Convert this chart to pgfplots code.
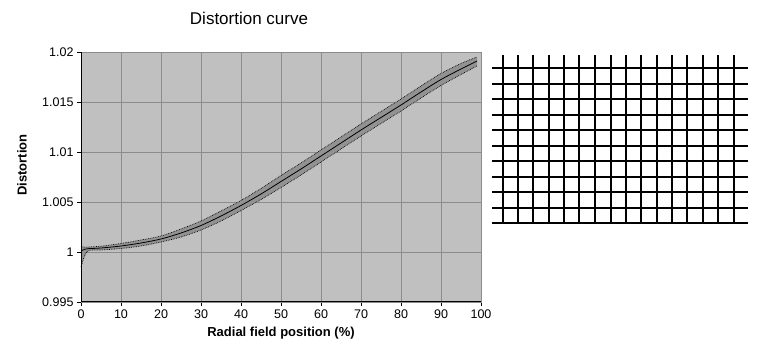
\documentclass[border=0pt]{standalone}
\usepackage{fontspec}
\setmainfont{Liberation Sans}
\usepackage{pgfplots}
\usepgfplotslibrary{fillbetween}
\pgfplotsset{compat=1.18}
\usepackage{pgfplotstable}
\pgfplotstableread{
x c lo hi
0 1.00010 0.99850 1.00055
1 1.00028 0.99970 1.00048
2 1.00034 1.00016 1.00050
5 1.00040 1.00020 1.00058
10 1.00060 1.00035 1.00085
15 1.00090 1.00060 1.00120
20 1.00130 1.00100 1.00160
25 1.00190 1.00150 1.00230
30 1.00265 1.00220 1.00310
35 1.00360 1.00310 1.00410
40 1.00465 1.00415 1.00515
45 1.00580 1.00525 1.00635
50 1.00705 1.00645 1.00765
55 1.00830 1.00770 1.00890
60 1.00960 1.00900 1.01020
65 1.01090 1.01030 1.01150
70 1.01220 1.01160 1.01280
75 1.01345 1.01285 1.01405
80 1.01470 1.01410 1.01530
85 1.01600 1.01540 1.01660
90 1.01725 1.01665 1.01785
95 1.01830 1.01775 1.01885
99 1.01910 1.01860 1.01950
}\curvedata
\definecolor{plotbg}{HTML}{C0C0C0}
\definecolor{gridc}{HTML}{8C8C8C}
\definecolor{bandc}{HTML}{929292}
\begin{document}
\begin{tikzpicture}[x=1pt,y=1pt]
\node[font=\fontsize{17}{20}\selectfont] at (249,337) {Distortion curve};
\begin{axis}[
  at={(81pt,53pt)}, anchor=south west,
  scale only axis, width=400pt, height=250pt,
  xmin=0, xmax=100, ymin=0.995, ymax=1.02,
  xtick={0,10,...,100},
  ytick={0.995,1,1.005,1.01,1.015,1.02},
  yticklabels={0.995,1,1.005,1.01,1.015,1.02},
  grid=major,
  grid style={gridc, line width=0.8pt},
  axis background/.style={fill=plotbg},
  axis line style={gridc, line width=0.8pt},
  tick style={black, line width=0.8pt},
  tick align=outside, major tick length=4pt,
  xtick pos=bottom, ytick pos=left,
  /pgf/number format/assume math mode=true,
  tick label style={font=\fontsize{12.5}{15}\selectfont},
  xlabel={\textbf{Radial field position (\%)}},
  ylabel={\textbf{Distortion}},
  label style={font=\fontsize{13}{16}\selectfont},
  xlabel style={at={(axis description cs:0.5,-0.124)}, anchor=center},
  ylabel style={at={(axis description cs:-0.1475,0.548)}, anchor=center},
  clip=false,
]
\addplot[name path=hi, black, densely dotted, line width=0.7pt, smooth] table[x=x,y=hi] {\curvedata};
\addplot[name path=lo, black, densely dotted, line width=0.7pt, smooth] table[x=x,y=lo] {\curvedata};
\addplot[bandc] fill between[of=hi and lo];
\addplot[black, line width=0.8pt, smooth] table[x=x,y=c] {\curvedata};
\draw[black, line width=1pt] (axis cs:0,0.995) -- (axis cs:100,0.995);
\draw[black, line width=1pt] (axis cs:0,0.995) -- (axis cs:0,1.02);
\end{axis}
\begin{axis}[
  at={(492pt,132pt)}, anchor=south west,
  scale only axis, width=256pt, height=168pt,
  xmin=492, xmax=748, ymin=0, ymax=168,
  hide axis, clip=false,
]
\pgfplotsinvokeforeach{503,518,533,549,564,579,595,611,626,641,657,672,687,703,718,734}{
  \addplot[black, line width=2pt] coordinates {(#1,0) (#1,168)};
}
\pgfplotsinvokeforeach{0,15,31,46,62,77,93,108,124,139,155}{
  \addplot[black, line width=2pt] coordinates {(492,#1) (748,#1)};
}
\end{axis}
\path (0,0) rectangle (771,355);
\end{tikzpicture}
\end{document}
